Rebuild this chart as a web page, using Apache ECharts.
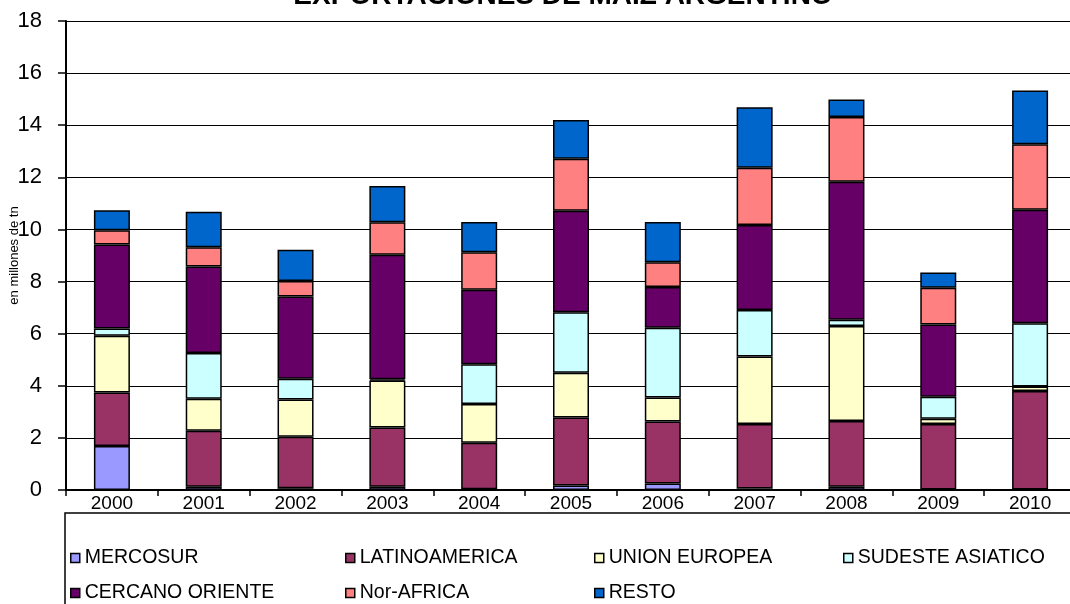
<!DOCTYPE html>
<html>
<head>
<meta charset="utf-8">
<script src="https://cdn.jsdelivr.net/npm/echarts@6/dist/echarts.min.js"></script>
<style>
  html, body { margin: 0; padding: 0; background: #fff; }
  #chart { width: 1070px; height: 604px; }
</style>
</head>
<body>
<div id="chart"></div>
<script>
// Exportaciones de maíz argentino por destino, en millones de toneladas
const years = ['2000', '2001', '2002', '2003', '2004', '2005', '2006', '2007', '2008', '2009', '2010'];

const mercosur       = [1.69, 0.12, 0.07, 0.12, 0.03, 0.17, 0.25, 0.06, 0.12, 0.02, 0.02];
const latinoamerica  = [2.05, 2.15, 1.97, 2.28, 1.78, 2.61, 2.38, 2.47, 2.53, 2.51, 3.78];
const unionEuropea   = [2.18, 1.23, 1.43, 1.80, 1.49, 1.72, 0.92, 2.59, 3.64, 0.20, 0.17];
const sudesteAsiatico= [0.28, 1.76, 0.80, 0.05, 1.53, 2.32, 2.68, 1.79, 0.24, 0.85, 2.43];
const cercanoOriente = [3.22, 3.32, 3.16, 4.78, 2.86, 3.90, 1.56, 3.26, 5.30, 2.77, 4.36];
const norAfrica      = [0.55, 0.74, 0.59, 1.25, 1.43, 1.99, 0.95, 2.20, 2.49, 1.41, 2.51];
const resto          = [0.77, 1.36, 1.20, 1.39, 1.17, 1.49, 1.55, 2.32, 0.67, 0.59, 2.06];

const yTicks = { min: 0, max: 18, interval: 2 };

const seriesDefs = [
  { name: 'MERCOSUR',         data: mercosur,        color: '#9999FF' },
  { name: 'LATINOAMERICA',    data: latinoamerica,   color: '#993366' },
  { name: 'UNION EUROPEA',    data: unionEuropea,    color: '#FFFFCC' },
  { name: 'SUDESTE ASIATICO', data: sudesteAsiatico, color: '#CCFFFF' },
  { name: 'CERCANO ORIENTE',  data: cercanoOriente,  color: '#660066' },
  { name: 'Nor-AFRICA',       data: norAfrica,       color: '#FF8080' },
  { name: 'RESTO',            data: resto,           color: '#0066CC' }
];

const FONT = '"Liberation Sans Narrow", "Arial Narrow", "Liberation Sans", Arial, sans-serif';

// one legend block per column so the columns line up like a table
const legendTextStyle = { fontFamily: FONT, fontSize: 19.5, color: '#000' };
function legendColumn(names, left) {
  return {
    orient: 'vertical',
    left: left,
    top: 548,
    itemGap: 15,
    itemWidth: 9,
    itemHeight: 9,
    icon: 'rect',
    itemStyle: { borderColor: '#000', borderWidth: 1.5 },
    textStyle: legendTextStyle,
    padding: 0,
    data: names,
    selectedMode: false
  };
}

const chart = echarts.init(document.getElementById('chart'), null, { renderer: 'canvas' });

chart.setOption({
  animation: false,
  backgroundColor: '#fff',
  title: {
    text: 'EXPORTACIONES DE MAIZ ARGENTINO',
    left: 558,
    textAlign: 'center',
    top: -23,
    textStyle: { fontFamily: '"Liberation Sans", Arial, sans-serif', fontWeight: 'bold', fontSize: 28, color: '#000' }
  },
  grid: { left: 66, top: 21, width: 1010, height: 469, containLabel: false, outerBoundsMode: 'none' },
  legend: [
    legendColumn(['MERCOSUR', 'CERCANO ORIENTE'], 70),
    legendColumn(['LATINOAMERICA', 'Nor-AFRICA'], 345),
    legendColumn(['UNION EUROPEA', 'RESTO'], 594),
    legendColumn(['SUDESTE ASIATICO'], 843)
  ],
  xAxis: {
    type: 'category',
    data: years,
    axisLine: { lineStyle: { color: '#000', width: 2 } },
    axisTick: { show: true, alignWithLabel: false, length: 6, lineStyle: { color: '#000', width: 1.5 } },
    axisLabel: { fontFamily: FONT, fontSize: 19, color: '#000', margin: 4 },
    splitLine: { show: false }
  },
  yAxis: {
    type: 'value',
    min: yTicks.min,
    max: yTicks.max,
    interval: yTicks.interval,
    name: 'en millones de tn',
    nameLocation: 'middle',
    nameRotate: 90,
    nameGap: 45,
    nameMoveOverlap: false,
    nameTextStyle: { fontFamily: FONT, fontSize: 13, color: '#000' },
    axisLine: { show: true, lineStyle: { color: '#000', width: 2 } },
    axisTick: { show: true, inside: false, length: 8, lineStyle: { color: '#000', width: 1.5 } },
    axisLabel: { fontFamily: FONT, fontSize: 22, color: '#000', margin: 24 },
    splitLine: { show: true, lineStyle: { color: '#000', width: 1.2 } }
  },
  series: seriesDefs.map(s => ({
    name: s.name,
    type: 'bar',
    stack: 'total',
    barWidth: 36,
    data: s.data,
    itemStyle: { color: s.color, borderColor: '#000', borderWidth: 1.5 },
    emphasis: { disabled: true }
  })),
  graphic: [
    {
      type: 'rect',
      shape: { x: 65, y: 513, width: 1015, height: 110 },
      style: { fill: 'none', stroke: '#000', lineWidth: 1.5 },
      z: 0
    }
  ]
});
</script>
</body>
</html>
